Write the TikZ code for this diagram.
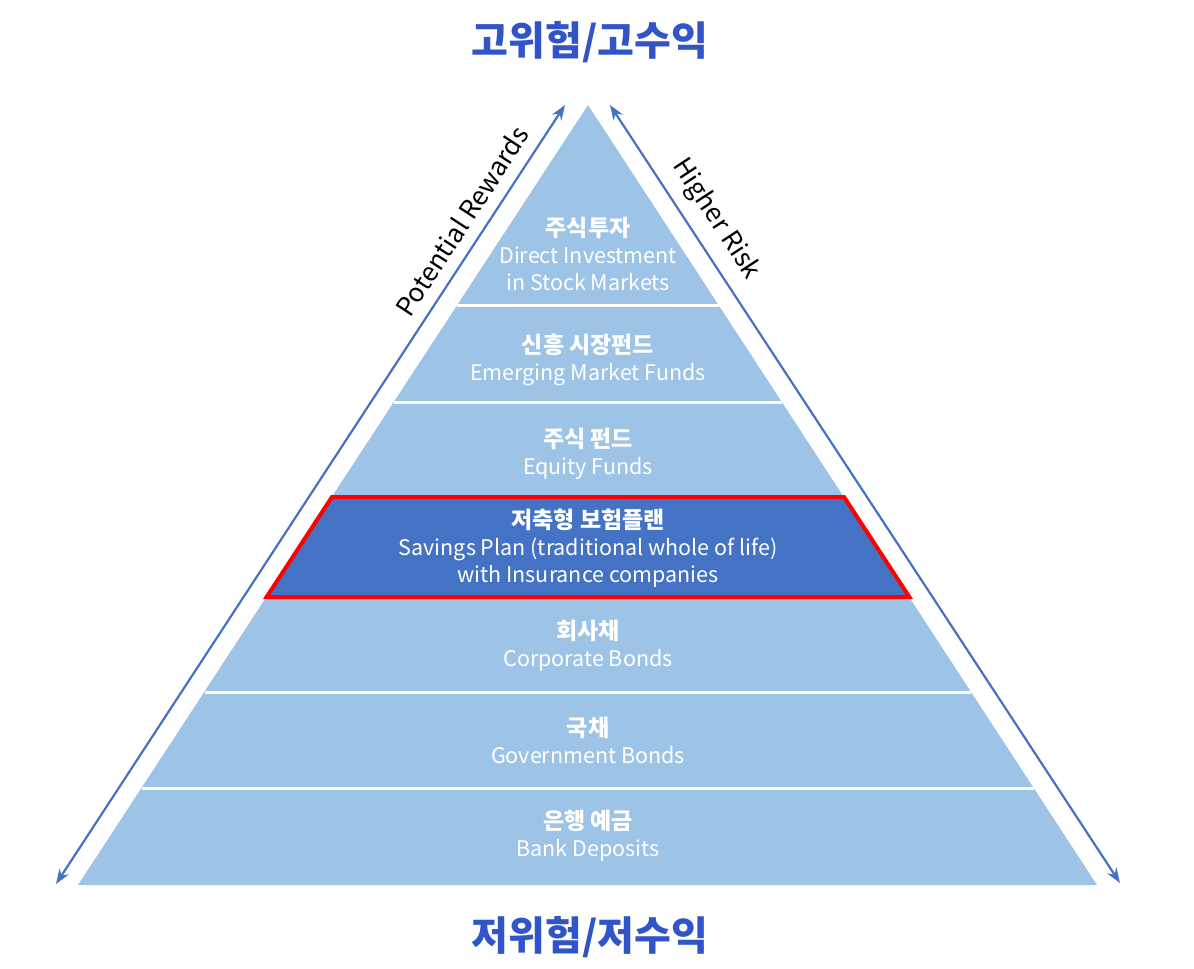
\documentclass[tikz,border=0pt]{standalone}
\usepackage{fontspec}
\setmainfont{Noto Sans CJK KR}
\usetikzlibrary{positioning,arrows.meta}
\definecolor{collayer}{HTML}{9DC3E6}
\definecolor{colhigh}{HTML}{4472C4}
\definecolor{colarrow}{HTML}{4472C4}
\definecolor{coltitle}{HTML}{3155C8}
\newcommand{\lx}[1]{588-0.6532*(#1-105)}
\newcommand{\rx}[1]{588+0.6532*(#1-105)}
\newcommand{\kr}[1]{{\fontsize{23}{27}\selectfont\bfseries #1}}

\begin{document}
\begin{tikzpicture}[x=1pt, y=-1pt,
    every node/.style={font=\fontsize{21.5}{27}\selectfont, text=white, align=center},
    title/.style={font=\fontsize{40}{44}\selectfont\bfseries, text=coltitle},
    side/.style={sloped, above=8pt, text=black, font=\fontsize{26}{30}\selectfont},
    risk/.style={{Stealth[length=15pt,width=11pt]}-{Stealth[length=15pt,width=11pt]}, colarrow, line width=2.2pt}]
  \useasboundingbox (0,0) rectangle (1194,969);
  \fill[collayer] (588,105) -- (78,885) -- (1097,885) -- cycle;
  \foreach \y in {305,402,497,597,692,788} \draw[white, line width=3pt] ({\lx{\y}},\y) -- ({\rx{\y}},\y);
  \fill[colhigh] ({\lx{499}},499) -- ({\rx{499}},499) -- ({\rx{597}},597) -- ({\lx{597}},597) -- cycle;
  \draw[red, line width=4pt] ({\lx{497}},497) -- ({\rx{497}},497) -- ({\rx{597}},597) -- ({\lx{597}},597) -- cycle;
  \node (l1) at (588,254) {\kr{주식투자}\\Direct Investment\\in Stock Markets};
  \node (l2) at (588,360) {\kr{신흥 시장펀드}\\Emerging Market Funds};
  \node (l3) at (588,454) {\kr{주식 펀드}\\Equity Funds};
  \node (l4) at (588,548) {\kr{저축형 보험플랜}\\Savings Plan (traditional whole of life)\\with Insurance companies};
  \node (l5) at (588,646) {\kr{회사채}\\Corporate Bonds};
  \node (l6) at (588,740) {\kr{국채}\\Government Bonds};
  \node (l7) at (588,836) {\kr{은행 예금}\\Bank Deposits};
  \node[title] (hi) at (590,42) {고위험/고수익};
  \node[title] (lo) at (590,937) {저위험/저수익};
  \coordinate (pr-lo) at (56,884);
  \coordinate (pr-hi) at (565,105);
  \coordinate (hr-hi) at (610,105);
  \coordinate (hr-lo) at (1120,883);
  \draw[risk] (pr-lo) -- node[side, pos=0.835] (prl) {Potential Rewards} (pr-hi);
  \draw[risk] (hr-hi) -- node[side, pos=0.165] (hrl) {Higher Risk} (hr-lo);
\end{tikzpicture}
\end{document}
